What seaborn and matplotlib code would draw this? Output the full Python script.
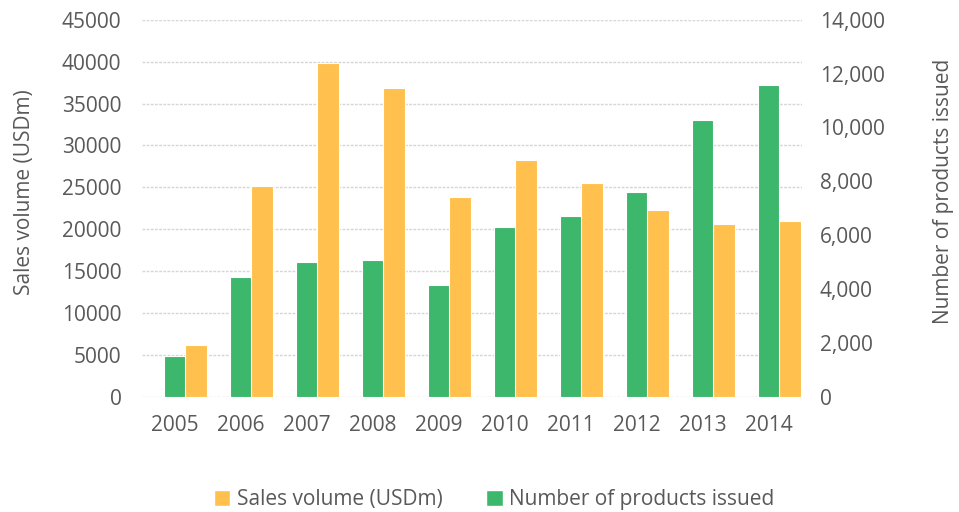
import numpy as np
import matplotlib
matplotlib.use("Agg")
import matplotlib.pyplot as plt
from matplotlib.ticker import StrMethodFormatter, MultipleLocator
from matplotlib.patches import Patch
import seaborn as sns

years = np.array([2005, 2006, 2007, 2008, 2009, 2010, 2011, 2012, 2013, 2014])
sales_volume = [6130, 25160, 39900, 36900, 23850, 28260, 25560, 22290, 20620, 21020]
products_issued = [1510, 4460, 4990, 5080, 4150, 6300, 6710, 7590, 10290, 11570]

yellow = "#FFC04D"
green = "#3CB76C"
text_col = "#595959"
fs = 15

sns.set_style("white")
plt.rcParams["font.family"] = ["Open Sans", "DejaVu Sans"]

fig = plt.figure(figsize=(9.59, 5.12), dpi=100)
ax1 = fig.add_axes([0.1476, 0.2252, 0.6882, 0.7361])
ax2 = ax1.twinx()

# green bars sit on the category, yellow ones just to the right of them
sns.barplot(x=years, y=products_issued, native_scale=True, width=0.31,
            color=green, saturation=1, edgecolor="white", linewidth=0.8, ax=ax2)
sns.barplot(x=years + 0.325, y=sales_volume, native_scale=True, width=0.335,
            color=yellow, saturation=1, edgecolor="white", linewidth=0.8, ax=ax1)

ax1.set_xlim(2004.5, 2014.5)
ax1.set_ylim(0, 45000)
ax2.set_ylim(0, 14000)
ax1.yaxis.set_major_locator(MultipleLocator(5000))
ax2.yaxis.set_major_locator(MultipleLocator(2000))
ax2.yaxis.set_major_formatter(StrMethodFormatter("{x:,.0f}"))
ax1.set_xticks(years)
ax1.set_xticklabels([str(y) for y in years])

ax1.grid(axis="y", color="#D6D6D6", linestyle=(0, (2, 1)), linewidth=1.0)
ax1.grid(axis="x", visible=False)
ax2.grid(False)
ax1.set_axisbelow(True)
for ax in (ax1, ax2):
    for s in ax.spines.values():
        s.set_visible(False)

ax1.tick_params(axis="y", length=0, pad=14.5, labelsize=fs, labelcolor=text_col)
ax1.tick_params(axis="x", length=0, pad=13, labelsize=fs, labelcolor=text_col)
ax2.tick_params(axis="y", length=0, pad=13, labelsize=fs, labelcolor=text_col)

ax1.set_xlabel("")
ax1.set_ylabel("Sales volume (USDm)", fontsize=fs, color=text_col)
ax2.set_ylabel("Number of products issued", fontsize=fs, color=text_col, rotation=90)
ax1.yaxis.set_label_coords(-0.162, 0.543)
ax2.yaxis.set_label_coords(1.199, 0.545)

handles = [Patch(facecolor=yellow, label="Sales volume (USDm)"),
           Patch(facecolor=green, label="Number of products issued")]
fig.legend(handles=handles, loc="center", bbox_to_anchor=(494 / 959, 1 - 500 / 512),
           ncol=2, frameon=False, fontsize=fs, labelcolor=text_col,
           handlelength=0.8, handleheight=0.8, handletextpad=0.3, columnspacing=2.1)

fig.savefig("out.png", dpi=100)
